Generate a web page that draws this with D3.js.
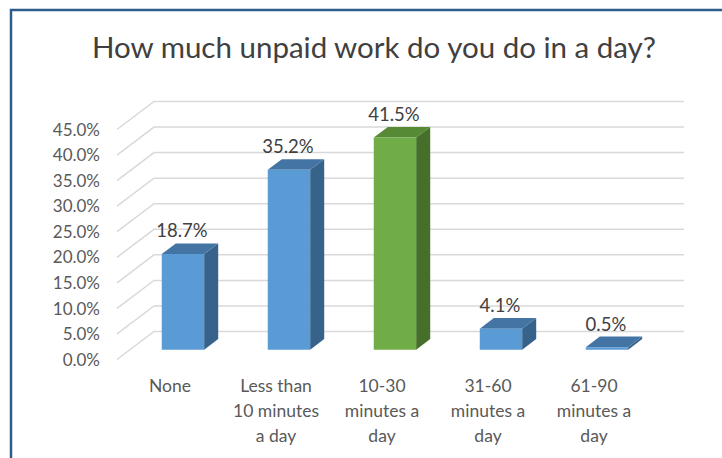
<!DOCTYPE html>
<html>
<head>
<meta charset="utf-8">
<script src="https://cdn.jsdelivr.net/npm/d3@7"></script>
<style>
  html, body { margin: 0; padding: 0; background: #fff; }
  svg { display: block; }
  text { font-family: Lato, "Noto Sans", sans-serif; }
</style>
</head>
<body>
<svg id="chart" width="722" height="458"></svg>
<script>
// Survey answers and their shares (percent)
const categories = [
  ["None"],
  ["Less than", "10 minutes", "a day"],
  ["10-30", "minutes a", "day"],
  ["31-60", "minutes a", "day"],
  ["61-90", "minutes a", "day"]
];
const values = [18.7, 35.2, 41.5, 4.1, 0.5];
const highlighted = [false, false, true, false, false];
const yTicks = [0, 5, 10, 15, 20, 25, 30, 35, 40, 45];
const title = "How much unpaid work do you do in a day?";

const svg = d3.select("#chart");

// Frame around the chart area
svg.append("rect")
  .attr("x", 11).attr("y", 10)
  .attr("width", 800).attr("height", 600)
  .attr("fill", "#fff")
  .attr("stroke", "#2e5d8c")
  .attr("stroke-width", 2.5);

// Oblique 3-D projection: front plane scales plus a depth offset
const DX = 37, DY = 28;
const keys = categories.map((c, i) => i);
const x = d3.scaleBand().domain(keys).range([117, 647]).padding(0);
const y = d3.scaleLinear().domain([0, 45]).range([359.5, 129.5]);
const proj = (px, v, f) => [px + f * DX, y(v) - f * DY];

// Gridlines: diagonal along the side wall, then across the back wall
const grid = svg.append("g");
yTicks.forEach(t => {
  const a = proj(x.range()[0], t, 0);
  const b = proj(x.range()[0], t, 1);
  const c = proj(x.range()[1], t, 1);
  grid.append("polyline")
    .attr("points", [a, b, c].map(p => p.join(",")).join(" "))
    .attr("fill", "none")
    .attr("stroke", "#d9d9d9")
    .attr("stroke-width", 1.5);
});

// Y tick labels
svg.append("g").selectAll("text")
  .data(yTicks).join("text")
  .attr("x", 100)
  .attr("y", d => y(d))
  .attr("dy", "0.36em")
  .attr("text-anchor", "end")
  .attr("font-size", 17)
  .attr("fill", "#595959")
  .text(d => d.toFixed(1) + "%");

// Bars
const F1 = 0.35, F2 = 0.73;
const barW = x.bandwidth() * 0.4;
const palette = {
  blue:  { front: "#5b9bd5", top: "#4474a3", side: "#37628a" },
  green: { front: "#70ad47", top: "#578a34", side: "#466f29" }
};
const bars = svg.append("g");
keys.forEach(i => {
  const col = highlighted[i] ? palette.green : palette.blue;
  const cx = x(i) + x.bandwidth() / 2;
  const x0 = cx - barW / 2, x1 = cx + barW / 2;
  const v = values[i];
  const pts = arr => arr.map(p => p.join(",")).join(" ");
  // side face
  bars.append("polygon")
    .attr("points", pts([proj(x1, 0, F1), proj(x1, v, F1), proj(x1, v, F2), proj(x1, 0, F2)]))
    .attr("fill", col.side);
  // top face
  bars.append("polygon")
    .attr("points", pts([proj(x0, v, F1), proj(x1, v, F1), proj(x1, v, F2), proj(x0, v, F2)]))
    .attr("fill", col.top);
  // front face
  bars.append("polygon")
    .attr("points", pts([proj(x0, 0, F1), proj(x1, 0, F1), proj(x1, v, F1), proj(x0, v, F1)]))
    .attr("fill", col.front);
  // value label
  const lp = proj(cx, v, F2);
  bars.append("text")
    .attr("x", proj(cx, v, F1)[0] - 1)
    .attr("y", lp[1] - 6)
    .attr("text-anchor", "middle")
    .attr("font-size", 18.5)
    .attr("fill", "#404040")
    .text(v.toFixed(1) + "%");
});

// Category labels (front plane)
const cat = svg.append("g");
keys.forEach(i => {
  const t = cat.append("text")
    .attr("x", x(i) + x.bandwidth() / 2)
    .attr("y", 392)
    .attr("text-anchor", "middle")
    .attr("font-size", 17.5)
    .attr("fill", "#595959");
  categories[i].forEach((line, k) => {
    t.append("tspan")
      .attr("x", x(i) + x.bandwidth() / 2)
      .attr("dy", k === 0 ? 0 : 25)
      .text(line);
  });
});

// Title
svg.append("text")
  .attr("x", 374)
  .attr("y", 58)
  .attr("text-anchor", "middle")
  .attr("font-size", 29.5)
  .attr("fill", "#404040")
  .text(title);
</script>
</body>
</html>
